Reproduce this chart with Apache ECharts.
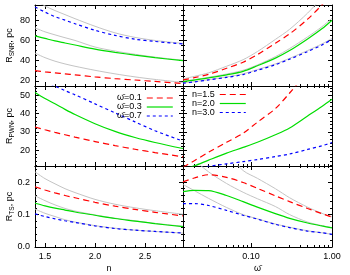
<!DOCTYPE html>
<html><head><meta charset="utf-8">
<script src="https://cdn.jsdelivr.net/npm/echarts@6/dist/echarts.min.js"></script>
<style>html,body{margin:0;padding:0;background:#fff}#c{width:350px;height:275px}</style>
</head><body><div id="c"></div>
<script>
// ---- x grids ----
const nVals = [1.4, 1.5, 1.6, 1.7, 1.8, 2.0, 2.2, 2.4, 2.6, 2.88];
const wVals = [0.0145, 0.02, 0.03, 0.05, 0.08, 0.12, 0.2, 0.3, 0.5, 0.75, 1.0];

// ---- tick labels ----
const nMajor = [1.5, 2.0, 2.5];
const nMinor = [1.4, 1.6, 1.7, 1.8, 1.9, 2.1, 2.2, 2.3, 2.4, 2.6, 2.7, 2.8];
const wMajor = [0.1, 1.0];
const wMinor = [0.02, 0.03, 0.04, 0.05, 0.06, 0.07, 0.08, 0.09, 0.2, 0.3, 0.4, 0.5, 0.6, 0.7, 0.8, 0.9];
const snrMajor = [20, 40, 60, 80];
const snrMinor = [15, 25, 30, 35, 45, 50, 55, 65, 70, 75, 85, 90, 95];
const pwnMajor = [20, 30, 40, 50];
const pwnMinor = [12, 14, 16, 18, 22, 24, 26, 28, 32, 34, 36, 38, 42, 44, 46, 48, 52, 54];
const tsMajor = [0, 0.1, 0.2];
const tsMinor = [0.02, 0.04, 0.06, 0.08, 0.12, 0.14, 0.16, 0.18, 0.22, 0.24];

// ---- legend names / titles ----
const omegaNames = ['ω̄=0.1', 'ω̄=0.3', 'ω̄=0.7'];
const nNames = ['n=1.5', 'n=2.0', 'n=3.0'];
const yTitleSubs = ['SNR', 'PWN', 'TS'];

// ---- R_SNR vs n ----
const snrN_w01 = [30.2, 29, 28, 27, 26, 24, 22.3, 20.9, 19.5, 17.5];
const snrN_w03 = [64.5, 62, 59.5, 57.5, 55.5, 51.5, 48.3, 45.5, 43, 40];
const snrN_w07 = [93, 88, 83.5, 80, 76.5, 70, 65, 61.2, 59, 56.5];
const snrN_grayA = [100, 94, 89.5, 85.5, 81.5, 74, 67.5, 63, 60, 57];
const snrN_grayB = [72.4, 68.5, 65.5, 62.7, 60, 53.5, 49.5, 46.3, 43.5, 40.4];
const snrN_grayC = [47.5, 43, 39.5, 36.8, 34.5, 30.5, 27, 24, 21.5, 18.5];

// ---- R_PWN vs n ----
const pwnN_w01 = [32.7, 31.2, 29.8, 28.5, 27.2, 24.8, 22.6, 20.6, 18.8, 16.5];
const pwnN_w03 = [51.5, 48.2, 45.3, 42.3, 39.5, 34.5, 30.3, 27, 24.3, 21];
const pwnN_w07 = [61, 57.5, 55, 52.5, 50.2, 45.3, 40.4, 35.5, 30.7, 25];

// ---- R_TS vs n ----
const tsN_w01 = [0.186, 0.176, 0.167, 0.159, 0.152, 0.138, 0.126, 0.116, 0.107, 0.096];
const tsN_w03 = [0.135, 0.127, 0.12, 0.114, 0.108, 0.098, 0.088, 0.08, 0.072, 0.063];
const tsN_w07 = [0.102, 0.094, 0.087, 0.081, 0.076, 0.065, 0.057, 0.052, 0.048, 0.043];
const tsN_grayA = [0.232, 0.211, 0.195, 0.18, 0.168, 0.147, 0.132, 0.121, 0.112, 0.101];
const tsN_grayB = [0.158, 0.143, 0.13, 0.119, 0.111, 0.099, 0.089, 0.081, 0.073, 0.064];
const tsN_grayC = [0.117, 0.104, 0.094, 0.084, 0.077, 0.066, 0.058, 0.052, 0.048, 0.043];

// ---- R_SNR vs omega ----
const snrW_n15 = [21, 23.2, 26.5, 32.5, 38.5, 46, 57.3, 66.5, 81, 95, 106];
const snrW_n20 = [19.4, 20.8, 23, 26, 29.5, 35, 42.5, 50, 61.5, 71.5, 80];
const snrW_n30 = [17.8, 19, 21, 23.5, 26.3, 30.5, 36, 41.5, 49, 55.5, 61];
const snrW_grayA = [22, 24.5, 28, 34.5, 41, 49, 61, 71, 87, 102, 112];
const snrW_grayB = [19.8, 21.3, 23.6, 26.8, 30.5, 35.8, 44, 52, 63.5, 73.5, 82];
const snrW_grayC = [18, 19.3, 21.3, 24, 27, 31.2, 36.8, 42.3, 50, 56.5, 62];

// ---- R_PWN vs omega ----
const pwnW_n15 = [10.8, 14.4, 19, 24.4, 29.3, 35.3, 42.7, 51.2, 63, 75, 85];
const pwnW_n20 = [9.5, 11.6, 14.7, 18.5, 21.6, 24.4, 28.5, 32.2, 38.7, 43.9, 47.8];
const pwnW_n30 = [9, 10, 11.3, 12.7, 13.9, 15, 16.6, 18, 20.5, 22.5, 24.2];

// ---- R_TS vs omega ----
const tsW_n15 = [0.201, 0.213, 0.223, 0.215, 0.199, 0.181, 0.158, 0.14, 0.119, 0.103, 0.092];
const tsW_n20 = [0.171, 0.175, 0.174, 0.159, 0.14, 0.123, 0.103, 0.0885, 0.074, 0.065, 0.059];
const tsW_n30 = [0.134, 0.134, 0.128, 0.113, 0.098, 0.086, 0.07, 0.06, 0.049, 0.044, 0.039];
const tsW_grayA = [0.193, 0.174, 0.15, 0.122, 0.1, 0.087, 0.071, 0.061, 0.05, 0.044, 0.039];
const tsW_grayB = [0.32, 0.27, 0.232, 0.196, 0.169, 0.149, 0.125, 0.1, 0.077, 0.066, 0.06];
const tsW_grayC = [0.45, 0.38, 0.33, 0.29, 0.236, 0.212, 0.18, 0.152, 0.123, 0.104, 0.093];

// ------------------------------------------------------------------
const FONT = 'Liberation Sans';
const FS = 9, FS_SUB = 6.5;
const RED = '#ff0000', GREEN = '#00dd00', BLUE = '#0000ff', GRAY = '#c4c4c4';

const cols = [
  {left: 35, width: 148, type: 'value', min: 1.4, max: 2.88, major: nMajor, minor: nMinor,
   fmt: v => v.toFixed(1), name: 'n', xs: nVals},
  {left: 183, width: 149, type: 'log', min: 0.0145, max: 1, major: wMajor, minor: wMinor,
   fmt: v => v.toFixed(2), name: 'ω̄', xs: wVals}
];
const rows = [
  {top: 5, height: 81, min: 15, max: 95, major: snrMajor, minor: snrMinor,
   fmt: v => String(Math.round(v))},
  {top: 86, height: 80, min: 11.5, max: 55, major: pwnMajor, minor: pwnMinor,
   fmt: v => String(Math.round(v))},
  {top: 166, height: 81, min: 0, max: 0.25, major: tsMajor, minor: tsMinor,
   fmt: v => v.toFixed(1)}
];

// panel content: [row][col] -> list of [name, values, kind]
const panels = [
  [
    [['sg1', snrN_grayA, 'g'], ['sg2', snrN_grayB, 'g'], ['sg3', snrN_grayC, 'g'],
     ['s ' + omegaNames[0], snrN_w01, 'r'], ['s ' + omegaNames[1], snrN_w03, 'gr'], ['s ' + omegaNames[2], snrN_w07, 'b']],
    [['sg4', snrW_grayA, 'g'], ['sg5', snrW_grayB, 'g'], ['sg6', snrW_grayC, 'g'],
     ['s ' + nNames[0], snrW_n15, 'r'], ['s ' + nNames[1], snrW_n20, 'gr'], ['s ' + nNames[2], snrW_n30, 'b']]
  ],
  [
    [[omegaNames[0], pwnN_w01, 'r'], [omegaNames[1], pwnN_w03, 'gr'], [omegaNames[2], pwnN_w07, 'b']],
    [[nNames[0], pwnW_n15, 'r'], [nNames[1], pwnW_n20, 'gr'], [nNames[2], pwnW_n30, 'b']]
  ],
  [
    [['tg1', tsN_grayA, 'g'], ['tg2', tsN_grayB, 'g'], ['tg3', tsN_grayC, 'g'],
     ['t ' + omegaNames[0], tsN_w01, 'r'], ['t ' + omegaNames[1], tsN_w03, 'gr'], ['t ' + omegaNames[2], tsN_w07, 'b']],
    [['tg4', tsW_grayA, 'g'], ['tg5', tsW_grayB, 'g'], ['tg6', tsW_grayC, 'g'],
     ['t ' + nNames[0], tsW_n15, 'r'], ['t ' + nNames[1], tsW_n20, 'gr'], ['t ' + nNames[2], tsW_n30, 'b']]
  ]
];

const styles = {
  r: {color: RED, width: 1.2, type: [6, 4]},
  gr: {color: GREEN, width: 1.2, type: 'solid'},
  b: {color: BLUE, width: 1.2, type: [3, 3]},
  g: {color: GRAY, width: 1, type: 'solid'}
};

// text measuring for centring the rotated titles
const mctx = document.createElement('canvas').getContext('2d');
function tw(s, size) { mctx.font = size + 'px "' + FONT + '"'; return mctx.measureText(s).width; }

const grid = [], xAxis = [], yAxis = [], series = [], graphic = [];
const lineCol = {color: '#000', width: 1};

rows.forEach((R, r) => {
  const sub = yTitleSubs[r];
  const L = tw('R', FS) + tw(sub, FS_SUB) + tw(', pc', FS);
  graphic.push({
    type: 'text', x: 10, y: R.top + R.height / 2 + L / 2, rotation: Math.PI / 2, silent: true,
    style: {text: '{a|R}{s|' + sub + '}{a|, pc}', align: 'left', verticalAlign: 'middle', fill: '#000',
            fontFamily: FONT, fontSize: FS,
            rich: {a: {fontFamily: FONT, fontSize: FS, fill: '#000', lineHeight: 12},
                   s: {fontFamily: FONT, fontSize: FS_SUB, fill: '#000', lineHeight: 7, verticalAlign: 'bottom'}}}
  });
  cols.forEach((C, c) => {
    const g = grid.length;
    grid.push({left: C.left, top: R.top, width: C.width, height: R.height, outerBoundsMode: 'none'});
    const xMain = xAxis.length;
    ['bottom', 'top'].forEach(pos => {
      [true, false].forEach(isMajor => {
        const showLab = isMajor && pos === 'bottom' && r === 2;
        const ax = {
          gridIndex: g, type: C.type, min: C.min, max: C.max, position: pos,
          axisLine: {show: isMajor, onZero: false, lineStyle: lineCol},
          axisTick: {show: true, inside: true, length: isMajor ? 4 : 2,
                     customValues: isMajor ? C.major : C.minor, lineStyle: {color: '#000', width: 1}},
          axisLabel: {show: showLab, customValues: C.major, formatter: C.fmt, margin: 5,
                      fontFamily: FONT, fontSize: FS, color: '#000'},
          splitLine: {show: false}, minorTick: {show: false}, minorSplitLine: {show: false}
        };
        if (showLab) {
          ax.name = C.name; ax.nameLocation = 'middle'; ax.nameGap = 17;
          ax.nameTextStyle = {fontFamily: FONT, fontSize: FS, color: '#000'};
        }
        xAxis.push(ax);
      });
    });
    const yMain = yAxis.length;
    ['left', 'right'].forEach(pos => {
      [true, false].forEach(isMajor => {
        const showLab = isMajor && pos === 'left' && c === 0;
        yAxis.push({
          gridIndex: g, type: 'value', min: R.min, max: R.max, position: pos,
          axisLine: {show: isMajor, onZero: false, lineStyle: lineCol},
          axisTick: {show: true, inside: true, length: isMajor ? 4 : 2,
                     customValues: isMajor ? R.major : R.minor, lineStyle: {color: '#000', width: 1}},
          axisLabel: {show: showLab, customValues: R.major, formatter: R.fmt, margin: 5,
                      fontFamily: FONT, fontSize: FS, color: '#000'},
          splitLine: {show: false}, minorTick: {show: false}, minorSplitLine: {show: false}
        });
      });
    });
    panels[r][c].forEach(([name, vals, kind]) => {
      const st = styles[kind];
      series.push({
        type: 'line', name: name, xAxisIndex: xMain, yAxisIndex: yMain,
        data: C.xs.map((x, i) => [x, vals[i]]),
        smooth: 0.3, symbol: 'none', clip: true, silent: true,
        lineStyle: {color: st.color, width: st.width, type: st.type},
        itemStyle: {color: st.color},
        z: kind === 'g' ? 1 : 3
      });
    });
  });
});

const legendCommon = {
  orient: 'vertical', align: 'right', itemWidth: 26, itemHeight: 8, itemGap: 0, padding: 0,
  selectedMode: false, itemStyle: {opacity: 0}, lineStyle: {width: 1.2},
  textStyle: {fontFamily: FONT, fontSize: FS, color: '#000', lineHeight: 8}
};

const chart = echarts.init(document.getElementById('c'), null, {renderer: 'canvas'});
chart.setOption({
  animation: false,
  backgroundColor: '#fff',
  grid, xAxis, yAxis, series, graphic,
  legend: [
    Object.assign({data: omegaNames, left: 117, top: 93.5}, legendCommon),
    Object.assign({data: nNames, left: 192, top: 90}, legendCommon)
  ]
});
</script></body></html>
